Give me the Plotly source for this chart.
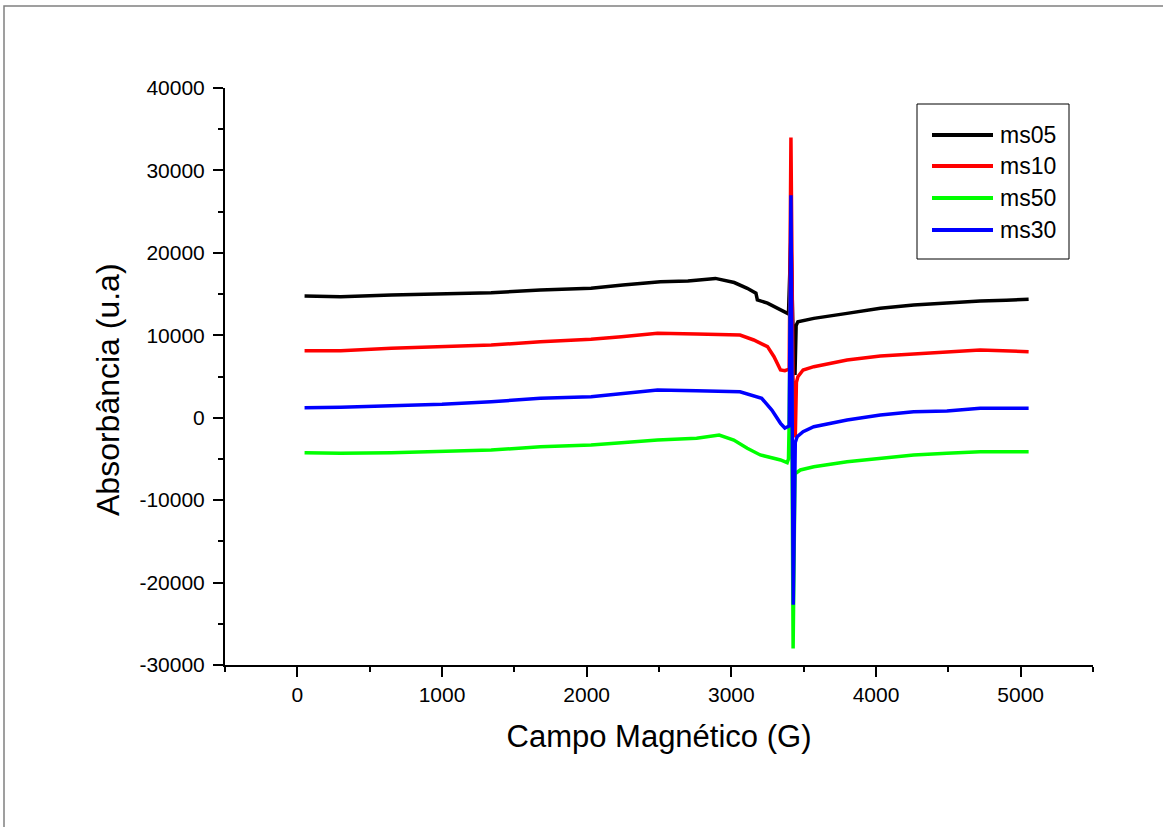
import plotly.graph_objects as go

# ---- data ----
ms05_x = [50, 300, 650, 1000, 1340, 1680, 2030, 2250, 2510, 2700, 2890, 3020, 3110, 3170, 3180, 3250, 3340, 3395,
          3412, 3424, 3440, 3448, 3460, 3570, 3800, 4030, 4260, 4490, 4720, 4900, 5055]
ms05_y = [14760, 14680, 14880, 15000, 15160, 15490, 15700, 16100, 16500, 16600, 16900, 16400, 15700, 15100, 14300, 13900, 13100, 12600,
          22000, 12000, 5200, 11200, 11650, 12050, 12660, 13270, 13670, 13950, 14150, 14250, 14360]

ms10_x = [50, 300, 650, 1000, 1340, 1680, 2030, 2240, 2490, 2760, 3060, 3155, 3250, 3295, 3340, 3370, 3400,
          3412, 3426, 3442, 3450, 3460, 3496, 3570, 3800, 4030, 4260, 4490, 4720, 5055]
ms10_y = [8130, 8130, 8420, 8620, 8820, 9220, 9510, 9830, 10240, 10150, 10030, 9430, 8620, 7400, 5790, 5700, 5900,
          34000, 5000, -2400, 4300, 4970, 5790, 6190, 7000, 7480, 7730, 7890, 8210, 8010]

ms50_x = [50, 300, 650, 1000, 1340, 1680, 2030, 2240, 2490, 2760, 2916, 3017, 3110, 3200, 3340, 3386, 3395, 3399,
          3412, 3427, 3440, 3477, 3570, 3800, 4030, 4260, 4490, 4720, 5055]
ms50_y = [-4250, -4320, -4250, -4120, -3920, -3520, -3310, -3030, -2700, -2500, -2100, -2700, -3710, -4520, -5130, -5460, -5000, -1250,
          20000, -28000, -6800, -6340, -5940, -5340, -4930, -4520, -4320, -4120, -4120]

ms30_x = [50, 300, 650, 1000, 1340, 1680, 2030, 2240, 2490, 2760, 3060, 3210, 3280, 3340, 3370, 3400,
          3412, 3428, 3442, 3455, 3496, 3570, 3800, 4030, 4260, 4490, 4720, 5055]
ms30_y = [1210, 1260, 1460, 1620, 1940, 2350, 2550, 2960, 3360, 3280, 3150, 2350, 930, -680, -1250, -1000,
          27000, -22700, -3000, -2300, -1700, -1090, -280, 330, 730, 810, 1140, 1140]

series_names = ["ms05", "ms10", "ms50", "ms30"]
series_x = [ms05_x, ms10_x, ms50_x, ms30_x]
series_y = [ms05_y, ms10_y, ms50_y, ms30_y]
series_colors = ["#000000", "#ff0000", "#00ff00", "#0000ff"]

y_tickvals = [-30000, -20000, -10000, 0, 10000, 20000, 30000, 40000]
y_ticktext = ["-30000", "-20000", "-10000", "0", "10000", "20000", "30000", "40000"]

x_title = "Campo Magnético (G)"
y_title = "Absorbância (u.a)"

FONT = "Liberation Sans, Arial, sans-serif"

# plot-area geometry in pixels (for converting legend placement to paper coords)
L, R, T, B = 225, 1093, 88, 665
def px(xpix):
    return (xpix - L) / (R - L)
def py(ypix):
    return (B - ypix) / (B - T)

fig = go.Figure()
for name, xs, ys, col in zip(series_names, series_x, series_y, series_colors):
    fig.add_trace(go.Scatter(x=xs, y=ys, mode="lines", name=name, showlegend=False,
                             line=dict(color=col, width=3.5)))

axis_common = dict(
    showline=True, linecolor="black", linewidth=2,
    ticks="outside", ticklen=10, tickwidth=2, tickcolor="black",
    showgrid=False, zeroline=False, mirror=False, tickformat="d",
    tickfont=dict(family=FONT, size=21, color="black"),
)

fig.update_xaxes(range=[-500, 5500], tick0=0, dtick=1000,
                 minor=dict(ticks="outside", ticklen=5, tickwidth=2, tickcolor="black", dtick=500, tick0=-500, showgrid=False),
                 title=dict(text=x_title, font=dict(family=FONT, size=31, color="black"), standoff=20),
                 **axis_common)
fig.update_yaxes(range=[-30000, 40000], tickmode="array", tickvals=y_tickvals, ticktext=y_ticktext,
                 ticklabelstandoff=4,
                 minor=dict(ticks="outside", ticklen=5, tickwidth=2, tickcolor="black", dtick=5000, tick0=0, showgrid=False),
                 **axis_common)

shapes = [dict(type="rect", xref="paper", yref="paper",
               x0=px(4), x1=px(1170), y0=py(835), y1=py(6),
               line=dict(color="#808080", width=1.5), fillcolor="rgba(0,0,0,0)", layer="below"),
          dict(type="rect", xref="paper", yref="paper",
               x0=px(917), x1=px(1069), y0=py(259), y1=py(104),
               line=dict(color="black", width=1), fillcolor="white", layer="above")]
annotations = [dict(text=y_title, xref="paper", yref="paper", x=px(108), y=py(390),
                    xanchor="center", yanchor="middle", textangle=-90, showarrow=False,
                    font=dict(family=FONT, size=32, color="black"))]
row_y = [135, 166, 198, 230]
for name, col, ry in zip(series_names, series_colors, row_y):
    shapes.append(dict(type="line", xref="paper", yref="paper",
                       x0=px(932), x1=px(993), y0=py(ry), y1=py(ry),
                       line=dict(color=col, width=4), layer="above"))
    annotations.append(dict(text=name, xref="paper", yref="paper", x=px(998), y=py(ry),
                            xanchor="left", yanchor="middle", showarrow=False,
                            font=dict(family=FONT, size=23, color="black")))

fig.update_layout(
    width=1163, height=827,
    margin=dict(l=L, r=1163 - R, t=T, b=827 - B),
    paper_bgcolor="white", plot_bgcolor="white",
    font=dict(family=FONT, color="black"),
    shapes=shapes, annotations=annotations,
)

fig.write_html("out.html")
